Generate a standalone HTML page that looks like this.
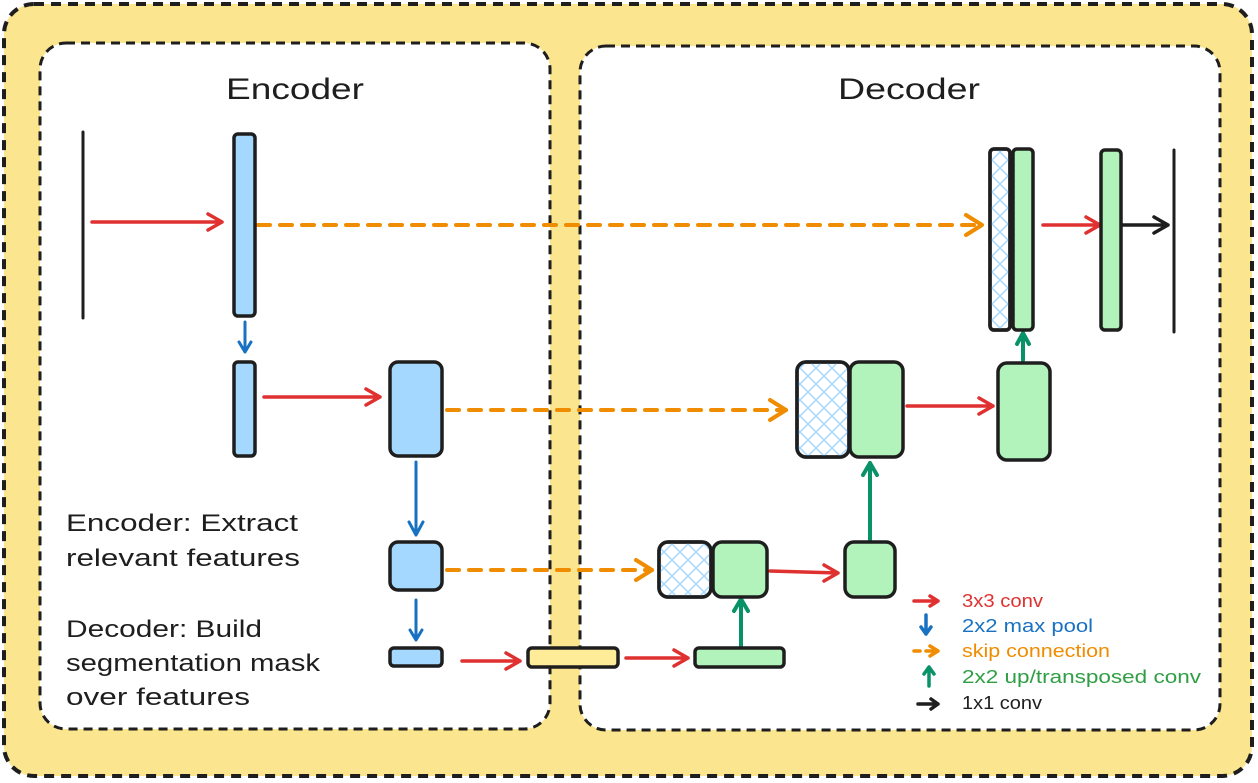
<!DOCTYPE html>
<html><head><meta charset="utf-8"><style>
html,body{margin:0;padding:0;background:#fff;}
svg{display:block;}
text{font-family:"Liberation Sans",sans-serif;}
</style></head><body>
<svg width="1258" height="783" viewBox="0 0 1258 783" xmlns="http://www.w3.org/2000/svg">
<defs>
<pattern id="hatch" width="16" height="16" patternUnits="userSpaceOnUse">
<path d="M0 0L16 16M16 0L0 16" stroke="#a5d8ff" stroke-width="1.5"/>
</pattern>
</defs>
<rect x="4" y="4" width="1248" height="772" rx="30" fill="#fbe58e" stroke="#1e1e1e" stroke-width="4" stroke-dasharray="10 7"/>
<rect x="40" y="43" width="510" height="686" rx="26" fill="#fff" stroke="#1e1e1e" stroke-width="3" stroke-dasharray="9 6"/>
<rect x="580" y="46" width="640" height="684" rx="26" fill="#fff" stroke="#1e1e1e" stroke-width="3" stroke-dasharray="9 6"/>
<text x="226" y="99" font-size="30" textLength="138" lengthAdjust="spacingAndGlyphs" fill="#1e1e1e">Encoder</text>
<text x="838" y="99" font-size="30" textLength="142" lengthAdjust="spacingAndGlyphs" fill="#1e1e1e">Decoder</text>

<g fill="none" stroke-linecap="round" stroke-linejoin="round">
<line x1="83" y1="132" x2="83" y2="318" stroke="#1e1e1e" stroke-width="3"/>
<line x1="1174" y1="150" x2="1174" y2="332" stroke="#1e1e1e" stroke-width="3"/>
<g stroke="#e03131" stroke-width="3.5">
<path d="M92 222H222M208 214L222 222L208 230"/>
<path d="M264 397H380M366 389L380 397L366 405"/>
<path d="M462 661H520M506 653L520 661L506 669"/>
<path d="M626 658H688M674 650L688 658L674 666"/>
<path d="M770 571L838 573M824 565L838 573L824 581"/>
<path d="M907 406H993M979 398L993 406L979 414"/>
<path d="M1043 225H1100M1086 217L1100 225L1086 233"/>
</g>
<g stroke="#f08c00" stroke-width="4">
<path d="M258 225H982" stroke-dasharray="12 10"/><path d="M966 215L982 225L966 235"/>
<path d="M447 410H786" stroke-dasharray="12 10"/><path d="M770 400L786 410L770 420"/>
<path d="M447 570H652" stroke-dasharray="12 10"/><path d="M636 560L652 570L636 580"/>
</g>
<g stroke="#1971c2" stroke-width="3">
<path d="M245 322V352M239 342L245 352L251 342"/>
<path d="M416 462V535M409 522L416 535L423 522"/>
<path d="M416 600V640M410 630L416 640L422 630"/>
</g>
<g stroke="#099268" stroke-width="4">
<path d="M741 647V599M734 611L741 599L748 611"/>
<path d="M870 540V463M863 475L870 463L877 475"/>
<path d="M1023 360V333M1017 344L1023 333L1029 344"/>
</g>
<path d="M1121 225H1168M1154 217L1168 225L1154 233" stroke="#1e1e1e" stroke-width="3.5"/>
</g>

<g stroke="#1e1e1e" stroke-width="3.5">
<rect x="234" y="134" width="21" height="182" rx="4" fill="#a5d8ff"/>
<rect x="234" y="362" width="21" height="94" rx="4" fill="#a5d8ff"/>
<rect x="390" y="362" width="52" height="94" rx="8" fill="#a5d8ff"/>
<rect x="390" y="542" width="52" height="48" rx="8" fill="#a5d8ff"/>
<rect x="390" y="648" width="52" height="18" rx="4" fill="#a5d8ff"/>
<rect x="528" y="648" width="90" height="19" rx="4" fill="#ffec99"/>
<rect x="695" y="648" width="89" height="19" rx="4" fill="#b2f2bb"/>
<rect x="659" y="542" width="52" height="55" rx="9" fill="#fff"/>
<rect x="659" y="542" width="52" height="55" rx="9" fill="url(#hatch)"/>
<rect x="713" y="542" width="54" height="55" rx="9" fill="#b2f2bb"/>
<rect x="845" y="542" width="50" height="55" rx="9" fill="#b2f2bb"/>
<rect x="797" y="362" width="52" height="95" rx="9" fill="#fff"/>
<rect x="797" y="362" width="52" height="95" rx="9" fill="url(#hatch)"/>
<rect x="850" y="362" width="53" height="95" rx="9" fill="#b2f2bb"/>
<rect x="998" y="363" width="52" height="97" rx="9" fill="#b2f2bb"/>
<rect x="990" y="149" width="20" height="181" rx="4" fill="#fff"/>
<rect x="990" y="149" width="20" height="181" rx="4" fill="url(#hatch)"/>
<rect x="1013" y="149" width="20" height="181" rx="4" fill="#b2f2bb"/>
<rect x="1101" y="150" width="20" height="180" rx="4" fill="#b2f2bb"/>
</g>

<g font-size="24" fill="#1e1e1e" lengthAdjust="spacingAndGlyphs">
<text x="66" y="531" textLength="232" lengthAdjust="spacingAndGlyphs">Encoder: Extract</text>
<text x="66" y="566" textLength="234" lengthAdjust="spacingAndGlyphs">relevant features</text>
<text x="66" y="637" textLength="196" lengthAdjust="spacingAndGlyphs">Decoder: Build</text>
<text x="66" y="671" textLength="254" lengthAdjust="spacingAndGlyphs">segmentation mask</text>
<text x="66" y="705" textLength="184" lengthAdjust="spacingAndGlyphs">over features</text>
</g>

<g fill="none" stroke-linecap="round" stroke-linejoin="round" stroke-width="3.5">
<path d="M914 601H938M930 596L938 601L930 606" stroke="#e03131"/>
<path d="M926 615V634M921 627L926 634L931 627" stroke="#1971c2"/>
<path d="M914 651H920M926 651H938M930 646L938 651L930 656" stroke="#f08c00"/>
<path d="M929 686V667M924 674L929 667L934 674" stroke="#099268"/>
<path d="M918 704H938M931 699L938 704L931 709" stroke="#1e1e1e"/>
</g>
<g font-size="18">
<text x="962" y="607" fill="#e03131" textLength="81" lengthAdjust="spacingAndGlyphs">3x3 conv</text>
<text x="962" y="632" fill="#1971c2" textLength="131" lengthAdjust="spacingAndGlyphs">2x2 max pool</text>
<text x="962" y="657" fill="#f08c00" textLength="148" lengthAdjust="spacingAndGlyphs">skip connection</text>
<text x="962" y="683" fill="#2f9e44" textLength="239" lengthAdjust="spacingAndGlyphs">2x2 up/transposed conv</text>
<text x="962" y="709" fill="#1e1e1e" textLength="80" lengthAdjust="spacingAndGlyphs">1x1 conv</text>
</g>
</svg>
</body></html>
